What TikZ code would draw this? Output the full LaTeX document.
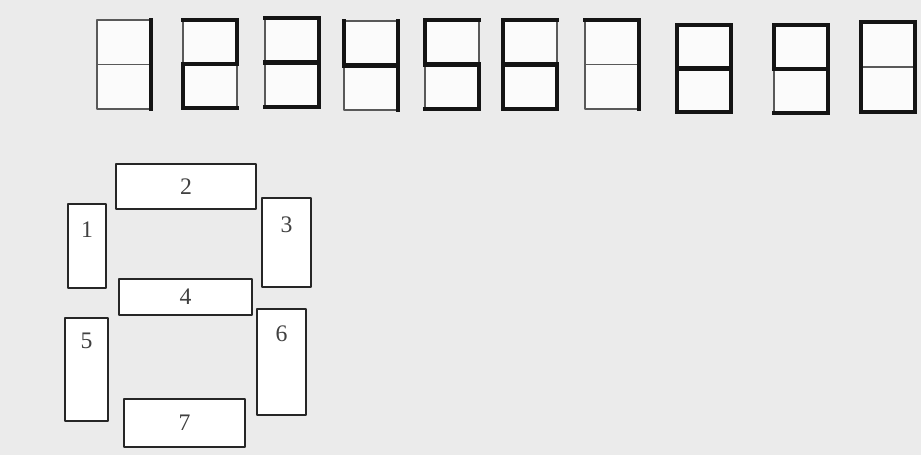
\documentclass[tikz,border=0pt]{standalone}
\usepackage{fontspec}
\setmainfont{Liberation Serif}
\begin{document}
\begin{tikzpicture}[x=0.02cm,y=-0.02cm,line join=round,
		seg/.style={draw=black!85,line width=1.1pt,fill=white,inner sep=0pt,outer sep=0pt},
		num/.style={font=\fontsize{13.5}{15}\selectfont,text=black!75,inner sep=1pt},
		thin/.style={draw=black!65,line width=0.7pt},
		lit/.style={draw=black!92,line width=2.6pt,line cap=rect}]
	\useasboundingbox (0,0) rectangle (921,455);
	\fill[black!8] (0,0) rectangle (921,455);
	% the ten digits
	\foreach \i/\x/\t/\b/\segs in {1/97/20/109/{3,6},2/183/20/108/{2,3,4,5,7},3/265/18/107/{2,3,4,6,7},
		4/344/21/110/{1,3,4,6},5/425/20/109/{1,2,4,6,7},6/503/20/109/{1,2,4,5,6,7},
		7/585/20/109/{2,3,6},8/677/25/112/{1,2,3,4,5,6,7},9/774/25/113/{1,2,3,4,6,7},
		10/861/22/112/{1,2,3,5,6,7}}{
		\coordinate (d\i-tl) at (\x,\t);
		\coordinate (d\i-tr) at ({\x+54},\t);
		\coordinate (d\i-ml) at (\x,{(\t+\b)/2});
		\coordinate (d\i-mr) at ({\x+54},{(\t+\b)/2});
		\coordinate (d\i-bl) at (\x,\b);
		\coordinate (d\i-br) at ({\x+54},\b);
		\fill[white!70!black!5] (d\i-tl) rectangle (d\i-br);
		\draw[thin] (d\i-tl) rectangle (d\i-br) (d\i-ml) -- (d\i-mr);
		\foreach \s in \segs {
			\ifcase\s\or
				\draw[lit] (d\i-tl) -- (d\i-ml);\or
				\draw[lit] (d\i-tl) -- (d\i-tr);\or
				\draw[lit] (d\i-tr) -- (d\i-mr);\or
				\draw[lit] (d\i-ml) -- (d\i-mr);\or
				\draw[lit] (d\i-ml) -- (d\i-bl);\or
				\draw[lit] (d\i-mr) -- (d\i-br);\or
				\draw[lit] (d\i-bl) -- (d\i-br);\fi
		}
	}
	% the seven segments
	\node[seg,minimum width=0.76cm,minimum height=1.68cm] (s1) at (87,246) {};
	\node[seg,minimum width=2.8cm,minimum height=0.9cm] (s2) at (186,186.5) {};
	\node[seg,minimum width=0.98cm,minimum height=1.78cm] (s3) at (286.5,242.5) {};
	\node[seg,minimum width=2.66cm,minimum height=0.72cm] (s4) at (185.5,297) {};
	\node[seg,minimum width=0.86cm,minimum height=2.06cm] (s5) at (86.5,369.5) {};
	\node[seg,minimum width=0.98cm,minimum height=2.12cm] (s6) at (281.5,362) {};
	\node[seg,minimum width=2.42cm,minimum height=0.96cm] (s7) at (184.5,423) {};
	\node[num] (n1) at ([yshift=-0.52cm]s1.north) {1};
	\node[num] (n2) at (s2) {2};
	\node[num] (n3) at ([yshift=-0.54cm]s3.north) {3};
	\node[num] (n4) at (s4) {4};
	\node[num] (n5) at ([yshift=-0.46cm]s5.north) {5};
	\node[num] (n6) at ([yshift=-0.5cm]s6.north) {6};
	\node[num] (n7) at (s7) {7};
\end{tikzpicture}
\end{document}
